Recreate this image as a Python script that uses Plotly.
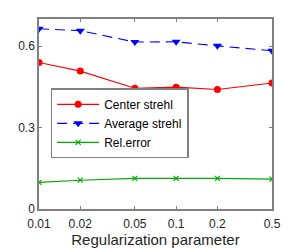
import plotly.graph_objects as go

x_vals = [0.01, 0.02, 0.05, 0.1, 0.2, 0.5]
x_ticklabels = ["0.01", "0.02", "0.05", "0.1", "0.2", "0.5"]
center_strehl = [0.540, 0.508, 0.445, 0.449, 0.440, 0.464]
average_strehl = [0.664, 0.657, 0.615, 0.616, 0.601, 0.583]
rel_error = [0.098, 0.106, 0.113, 0.113, 0.113, 0.110]
y_ticks = [0, 0.3, 0.6]
y_ticklabels = ["0", "0.3", "0.6"]

fig = go.Figure()
fig.add_trace(go.Scatter(x=x_vals, y=center_strehl, name="Center strehl",
                         mode="lines+markers",
                         line=dict(color="#ff0000", width=1.1),
                         marker=dict(symbol="circle", size=7, color="#ff0000")))
fig.add_trace(go.Scatter(x=x_vals, y=average_strehl, name="Average strehl",
                         mode="lines+markers",
                         line=dict(color="#0000ff", width=1.1, dash="10px,6px"),
                         marker=dict(symbol="triangle-down", size=8, color="#0000ff")))
fig.add_trace(go.Scatter(x=x_vals, y=rel_error, name="Rel.error",
                         mode="lines+markers",
                         line=dict(color="#00aa00", width=1.1),
                         marker=dict(symbol="x-thin", size=5, color="#00aa00",
                                     line=dict(color="#00aa00", width=1.1))))

axis_color = "#808080"
fig.update_layout(
    width=300, height=250,
    margin=dict(l=39, r=28, t=19, b=41, autoexpand=False),
    paper_bgcolor="white", plot_bgcolor="white",
    font=dict(family="Liberation Sans, Arial, sans-serif", size=12, color="#262626"),
    showlegend=True,
    legend=dict(x=0.05, y=0.635, xanchor="left", yanchor="top",
                bgcolor="white", bordercolor=axis_color, borderwidth=1.5,
                font=dict(size=12, color="#000000"),
                tracegroupgap=0, itemwidth=42),
    xaxis=dict(type="log", range=[-2, -0.30103],
               tickvals=x_vals, ticktext=x_ticklabels,
               ticks="inside", ticklen=3, tickcolor=axis_color,
               showline=True, linecolor=axis_color, linewidth=1.5, mirror="ticks",
               showgrid=False, zeroline=False, automargin=False,
               ticklabelstandoff=3,
               title=dict(text="Regularization parameter", font=dict(size=15), standoff=4),
               tickfont=dict(size=12)),
    yaxis=dict(range=[0, 0.7], tickvals=y_ticks, ticktext=y_ticklabels,
               ticks="inside", ticklen=3, tickcolor=axis_color,
               showline=True, linecolor=axis_color, linewidth=1.5, mirror="ticks",
               showgrid=False, zeroline=False, automargin=False,
               ticklabelstandoff=0, tickfont=dict(size=12)),
)

# remove the browser's default page margin so the figure sits at the window origin
fig.write_html("out.html", config={"displayModeBar": False},
               post_script="document.body.style.margin='0';")
